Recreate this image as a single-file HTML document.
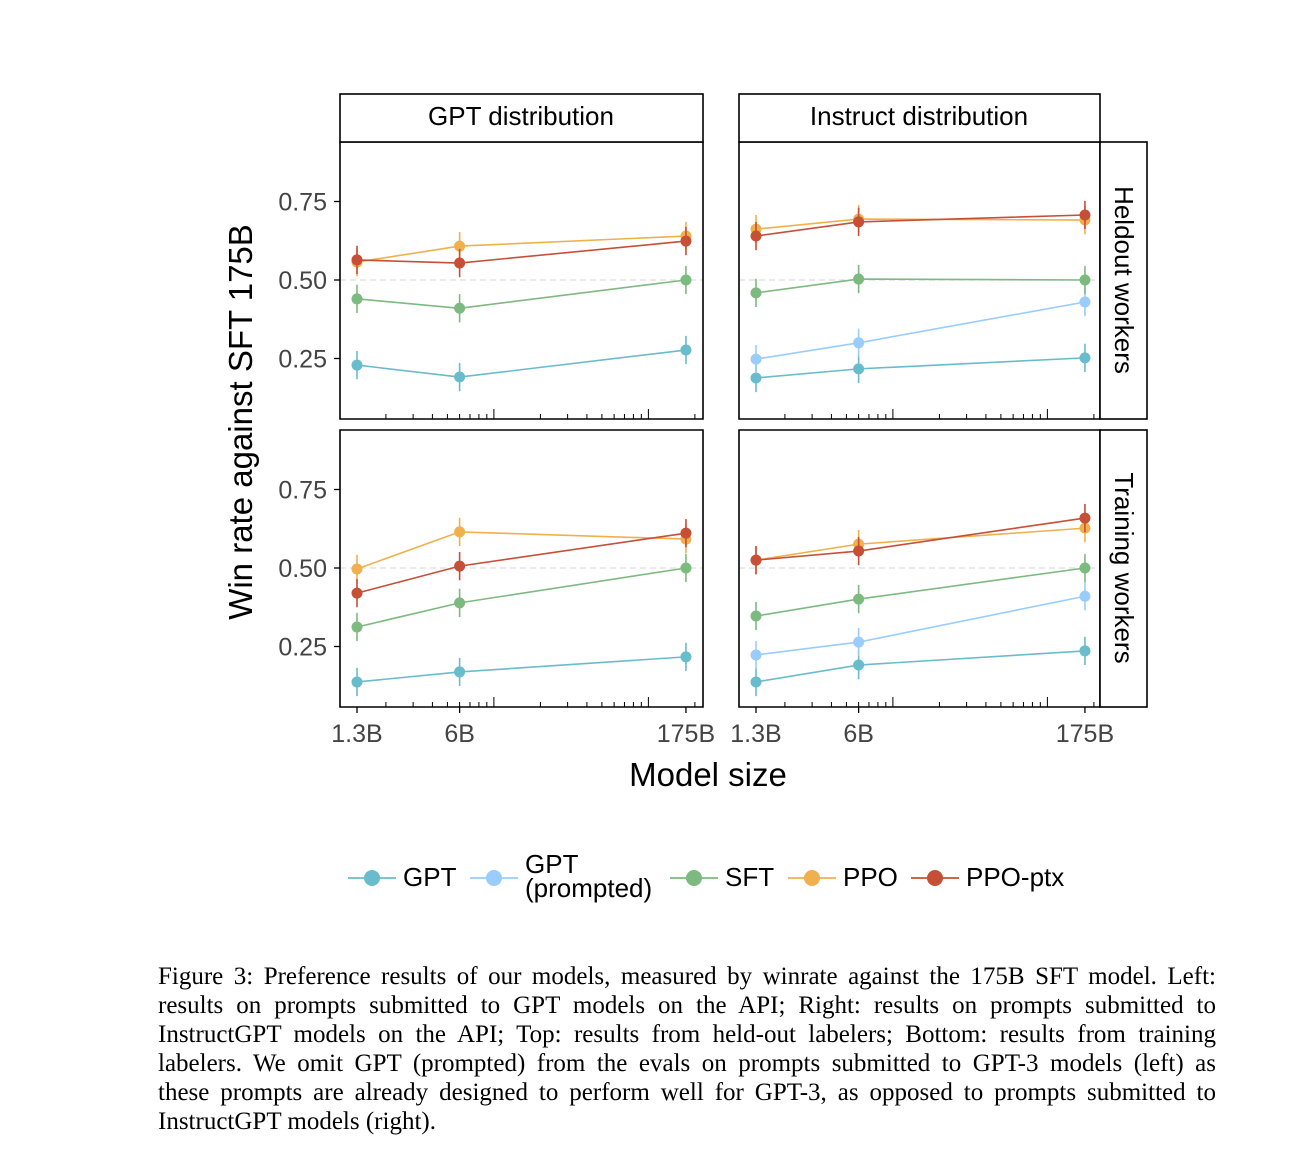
<!DOCTYPE html>
<html><head><meta charset="utf-8"><style>
body{margin:0;background:#fff;width:1298px;height:1164px;overflow:hidden}
svg{position:absolute;left:0;top:0}
#cap{position:absolute;left:158px;top:962px;width:1058px;font-family:"Liberation Serif",serif;font-size:25px;line-height:29px;color:#000}
#cap div{white-space:nowrap;text-align:justify;text-align-last:justify}
#cap div.last{text-align-last:left}
</style></head><body>
<svg id="chart" width="1298" height="950"></svg>
<div id="cap">
<div>Figure 3: Preference results of our models, measured by winrate against the 175B SFT model. Left:</div>
<div>results on prompts submitted to GPT models on the API; Right: results on prompts submitted to</div>
<div>InstructGPT models on the API; Top: results from held-out labelers; Bottom: results from training</div>
<div>labelers. We omit GPT (prompted) from the evals on prompts submitted to GPT-3 models (left) as</div>
<div>these prompts are already designed to perform well for GPT-3, as opposed to prompts submitted to</div>
<div class="last">InstructGPT models (right).</div>
</div>
<script>
const sizes=[1.3,6,175];
const sizeLabels=["1.3B","6B","175B"];
const yTicks=[0.25,0.5,0.75];
const seriesNames=["GPT","GPT (prompted)","SFT","PPO","PPO-ptx"];
const colors=["#68bccb","#99ccff","#7dba7f","#f0b04c","#c64f36"];
const tlGPT=[0.229,0.191,0.277], tlSFT=[0.44,0.41,0.5], tlPPO=[0.557,0.608,0.64], tlPTX=[0.564,0.554,0.624];
const trGPT=[0.188,0.217,0.252], trGPTp=[0.248,0.30,0.43], trSFT=[0.459,0.503,0.5], trPPO=[0.662,0.694,0.691], trPTX=[0.64,0.685,0.707];
const blGPT=[0.137,0.169,0.217], blSFT=[0.312,0.389,0.5], blPPO=[0.497,0.615,0.592], blPTX=[0.42,0.506,0.611];
const brGPT=[0.137,0.191,0.236], brGPTp=[0.223,0.264,0.41], brSFT=[0.347,0.401,0.5], brPPO=[0.525,0.576,0.627], brPTX=[0.525,0.554,0.659];
const errHalf=0.045;
const NS="http://www.w3.org/2000/svg";
const svg=document.getElementById('chart');
function mk(t,a,p){const e=document.createElementNS(NS,t);for(const k in a)e.setAttribute(k,a[k]);(p||svg).appendChild(e);return e;}
const panels=[
 {x0:340,x1:703,y0:142,y1:419,data:[tlGPT,null,tlSFT,tlPPO,tlPTX],name:'gpt-heldout'},
 {x0:739,x1:1100,y0:142,y1:419,data:[trGPT,trGPTp,trSFT,trPPO,trPTX],name:'instruct-heldout'},
 {x0:340,x1:703,y0:430,y1:707,data:[blGPT,null,blSFT,blPPO,blPTX],name:'gpt-training'},
 {x0:739,x1:1100,y0:430,y1:707,data:[brGPT,brGPTp,brSFT,brPPO,brPTX],name:'instruct-training'}];
const pxPerDec=154.5;
panels.forEach((p,pi)=>{
 const left=pi%2==0;const bottom=pi>=2;
 const xs=v=>p.x0+17+(Math.log10(v)-Math.log10(1.3))*pxPerDec;
 const ys=v=>p.y0+138-(v-0.5)*314;
 const g=mk('g',{});
 
 
 mk('line',{x1:p.x0,x2:p.x1,y1:ys(0.5),y2:ys(0.5),stroke:'#ddd','stroke-width':1.3,'stroke-dasharray':'6,4'},g);
 for(let d=0;d<3;d++)for(let m=1;m<10;m++){const v=m*Math.pow(10,d);const x=xs(v);if(x<p.x0||x>p.x1)continue;
  mk('line',{x1:x,x2:x,y1:p.y1,y2:p.y1-(m==1?10:5),stroke:'#000','stroke-width':1},g);}
 p.data.forEach((arr,si)=>{if(!arr)return;const c=colors[si];
  mk('polyline',{points:arr.map((v,i)=>xs(sizes[i])+','+ys(v)).join(' '),fill:'none',stroke:c,'stroke-width':1.6},g);
  arr.forEach((v,i)=>{
   mk('line',{x1:xs(sizes[i]),x2:xs(sizes[i]),y1:ys(v-errHalf),y2:ys(v+errHalf),stroke:c,'stroke-width':1.6},g);
   const pt=mk('circle',{cx:xs(sizes[i]),cy:ys(v),r:5.5,fill:c},g);
   
   
  });});
 mk('path',{d:`M${p.x0} ${p.y0}V${p.y1}H${p.x1}V${p.y0}Z`,fill:'none',stroke:'#000','stroke-width':1.6},g);
 if(left) yTicks.forEach(t=>{mk('line',{x1:p.x0-6,x2:p.x0,y1:ys(t),y2:ys(t),stroke:'#000','stroke-width':1.3},g);
  const tx=mk('text',{x:p.x0-13,y:ys(t)+9,'text-anchor':'end','font-size':25,fill:'#444','font-family':'Liberation Sans, sans-serif'},g);tx.textContent=t.toFixed(2);});
 if(bottom) sizes.forEach((s,i)=>{mk('line',{x1:xs(s),x2:xs(s),y1:p.y1,y2:p.y1+6,stroke:'#000','stroke-width':1.3},g);
  const tx=mk('text',{x:xs(s),y:p.y1+35,'text-anchor':'middle','font-size':25,fill:'#444','font-family':'Liberation Sans, sans-serif'},g);tx.textContent=sizeLabels[i];});
});
function txt(s,a,name){const t=mk('text',Object.assign({'font-family':'Liberation Sans, sans-serif',fill:'#000'},a));t.textContent=s;return t;}
mk('rect',{x:340,y:94,width:363,height:48,fill:'#fff',stroke:'#000','stroke-width':1.6});
mk('rect',{x:739,y:94,width:361,height:48,fill:'#fff',stroke:'#000','stroke-width':1.6});
mk('rect',{x:1100,y:142,width:47,height:277,fill:'#fff',stroke:'#000','stroke-width':1.6});
mk('rect',{x:1100,y:430,width:47,height:277,fill:'#fff',stroke:'#000','stroke-width':1.6});
txt('GPT distribution',{x:521,y:125,'text-anchor':'middle','font-size':26},'strip-gpt-distribution');
txt('Instruct distribution',{x:919,y:125,'text-anchor':'middle','font-size':26},'strip-instruct-distribution');
txt('Heldout workers',{x:1115,y:280,'text-anchor':'middle','font-size':26,transform:'rotate(90 1115 280)'},'strip-heldout-workers');
txt('Training workers',{x:1115,y:568,'text-anchor':'middle','font-size':26,transform:'rotate(90 1115 568)'},'strip-training-workers');
txt('Win rate against SFT 175B',{x:252,y:422,'text-anchor':'middle','font-size':33,transform:'rotate(-90 252 422)'},'y-axis-title');
txt('Model size',{x:708,y:786,'text-anchor':'middle','font-size':33},'x-axis-title');
const legX=[348,470,670,788,911];
seriesNames.forEach((n,i)=>{const x=legX[i];const g=mk('g',{});
 
 
 mk('line',{x1:x,x2:x+48,y1:878,y2:878,stroke:colors[i],'stroke-width':1.8},g);
 mk('circle',{cx:x+24,cy:878,r:8,fill:colors[i]},g);
 if(n=='GPT (prompted)'){
  const t1=mk('text',{x:x+55,y:873,'font-size':26,'font-family':'Liberation Sans, sans-serif'},g);t1.textContent='GPT';
  const t2=mk('text',{x:x+55,y:897,'font-size':26,'font-family':'Liberation Sans, sans-serif'},g);t2.textContent='(prompted)';
 } else {const t=mk('text',{x:x+55,y:886,'font-size':26,'font-family':'Liberation Sans, sans-serif'},g);t.textContent=n;}
});
</script>
</body></html>
